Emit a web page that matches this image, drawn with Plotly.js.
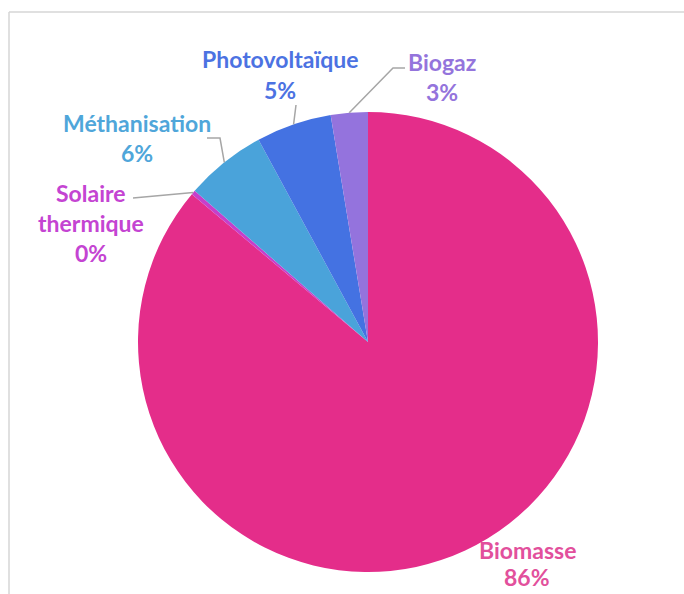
<!DOCTYPE html>
<html>
<head>
<meta charset="utf-8">
<script src="https://cdn.plot.ly/plotly-3.0.1.min.js"></script>
<style>html,body{margin:0;padding:0;background:#fff;}#chart{width:684px;height:594px;}</style>
</head>
<body>
<div id="chart"></div>
<script>
const categories = ["Biomasse", "Solaire thermique", "Méthanisation", "Photovoltaïque", "Biogaz"];
const values = [86.2, 0.3, 5.7, 5.3, 2.6];
const sliceColors = ["#E42D8A", "#C63FCB", "#4AA3DA", "#4472E2", "#9473DD"];
const textColors = ["#E2509C", "#C444D2", "#4FA6DA", "#4C72E2", "#9474DC"];

const W = 684, H = 594;
const cx = 368, cy = 342, R = 230;
const px = x => x / W;
const py = y => 1 - y / H;

// label layout (pixel centers of each text line) and leader knee points
const labelLayout = [
  {lines: ["Biomasse"], x: 527, y: [550, 577], path: null},
  {lines: ["Solaire", "thermique"], x: 91, y: [193, 223, 253], path: [[133, 198]]},
  {lines: ["Méthanisation"], x: 137, y: [123, 153], path: [[220, 138], [207, 138]]},
  {lines: ["Photovoltaïque"], x: 280, y: [59, 90], path: [[296, 105]]},
  {lines: ["Biogaz"], x: 442, y: [62, 92], path: [[393, 68], [405, 68]]}
];

const total = values.reduce((a, b) => a + b, 0);
const annotations = [];
const shapes = [];
let cum = 0;
values.forEach((v, i) => {
  const mid = (cum + v / 2) / total * 2 * Math.PI; // clockwise from top
  cum += v;
  const ex = cx + R * Math.sin(mid), ey = cy - R * Math.cos(mid);
  const L = labelLayout[i];
  const pct = Math.round(v / total * 100) + "%";
  const texts = L.lines.concat([pct]);
  texts.forEach((t, k) => {
    annotations.push({
      xref: "paper", yref: "paper", x: px(L.x), y: py(L.y[k]),
      xanchor: "center", yanchor: "middle", showarrow: false, text: t,
      font: {family: "Lato, 'Open Sans', sans-serif", size: 23, color: textColors[i], weight: "bold"}
    });
  });
  if (L.path) {
    let d = "M" + px(ex) + "," + py(ey);
    L.path.forEach(p => { d += " L" + px(p[0]) + "," + py(p[1]); });
    shapes.push({type: "path", xref: "paper", yref: "paper", path: d,
      line: {color: "#A6A6A6", width: 1.5}});
  }
});

// frame of the original figure
shapes.push({type: "line", xref: "paper", yref: "paper", x0: px(9), x1: px(684), y0: py(12), y1: py(12), line: {color: "#D6D6D6", width: 1.5}});
shapes.push({type: "line", xref: "paper", yref: "paper", x0: px(9), x1: px(9), y0: py(12), y1: py(594), line: {color: "#D6D6D6", width: 1.5}});

const trace = {
  type: "pie",
  labels: categories,
  values: values,
  sort: false,
  direction: "clockwise",
  rotation: 0,
  textinfo: "none",
  hoverinfo: "label+percent",
  marker: {colors: sliceColors, line: {color: "#ffffff", width: 0}},
  domain: {x: [px(cx - R), px(cx + R)], y: [py(cy + R), py(cy - R)]},
  showlegend: false
};

Plotly.newPlot("chart", [trace], {
  width: W, height: H,
  margin: {l: 0, r: 0, t: 0, b: 0},
  paper_bgcolor: "#ffffff",
  showlegend: false,
  annotations: annotations,
  shapes: shapes
}, {displayModeBar: false, staticPlot: true});
</script>
</body>
</html>
